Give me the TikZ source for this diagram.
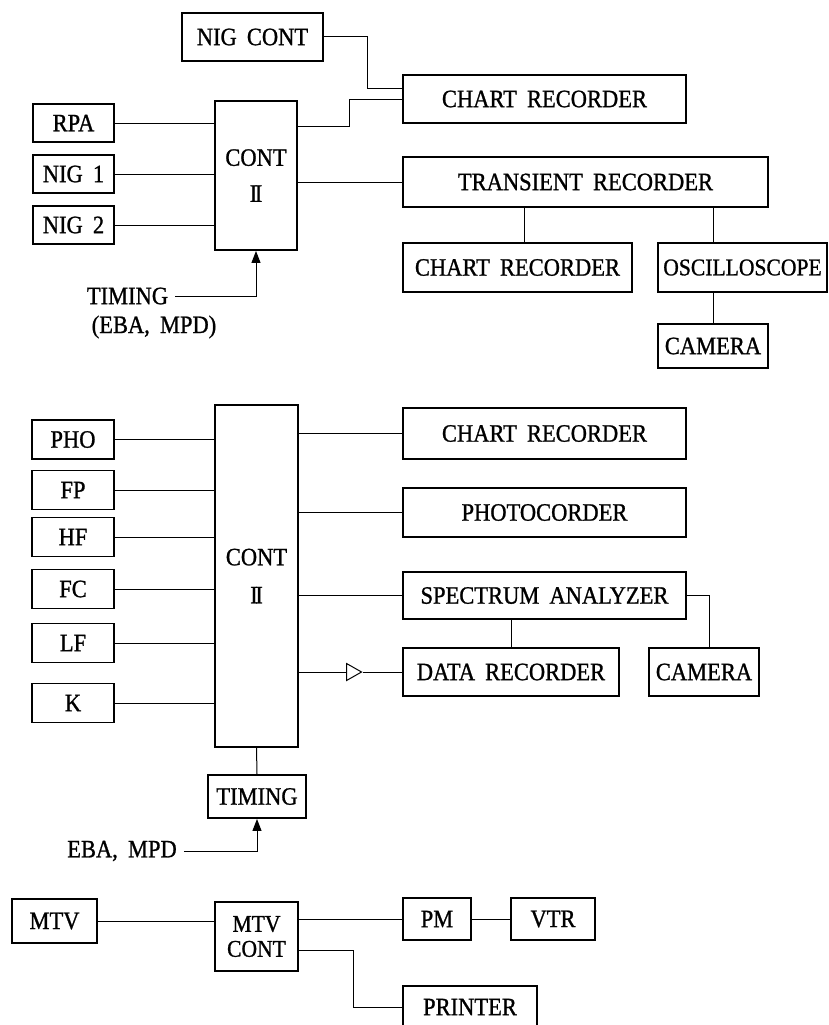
\documentclass[tikz,border=0pt]{standalone}
\usepackage{fontspec}
\setmainfont{Liberation Serif}[FakeStretch=0.9,WordSpace=1.8,FakeBold=1]
\usetikzlibrary{arrows.meta,shapes.geometric}
\tikzset{
  blk/.style={draw=black,line width=1.9pt,inner sep=2pt,align=center},
  wh/.style 2 args={minimum width=#1,minimum height=#2},
  wire/.style={draw=black,line width=1pt},
  sig/.style={wire,-{Triangle[length=12pt,width=9pt]}},
  amp/.style={draw=black,line width=1pt,isosceles triangle,
              isosceles triangle stretches,inner sep=0pt,wh={17}{15}},
  lbl/.style={inner sep=7pt},
}
\newcommand{\romtwo}{I\kern-2.4pt I}

\begin{document}
\begin{tikzpicture}[x=1pt,y=-1pt,font=\fontsize{25}{29}\selectfont]
  \useasboundingbox (0,0) rectangle (829,1025);

  % ===== upper group: CONT II, NIG inputs =====
  \node[blk,wh={141}{48}]  (nigc)   at (252.5,37)  {NIG CONT};
  \node[blk,wh={81}{38}]   (rpa)    at (73.5,123)  {RPA};
  \node[blk,wh={81}{38}]   (nig1)   at (73.5,174)  {NIG 1};
  \node[blk,wh={81}{38}]   (nig2)   at (73.5,225)  {NIG 2};
  \node[blk,wh={82}{149}]  (cont1)  at (256,175.5) {CONT\\[7pt]\romtwo};
  \node[blk,wh={283}{48}]  (chart1) at (544.5,99)  {CHART RECORDER};
  \node[blk,wh={365}{50}]  (trans)  at (585.5,182) {TRANSIENT RECORDER};
  \node[blk,wh={229}{49}]  (chart2) at (517.5,267.5) {CHART RECORDER};
  \node[blk,wh={169}{49},inner sep=0pt,font=\fontsize{24}{28}\selectfont]
                           (osc)    at (742.5,267.5) {OSCILLOSCOPE};
  \node[blk,wh={110}{44}]  (cam1)   at (713,346)   {CAMERA};
  \node[lbl] (tim1)  at (127.5,296) {TIMING};
  \node[lbl] (tim1b) at (154,327)   {(EBA, MPD)};

  \foreach \n in {rpa,nig1,nig2}
    \draw[wire] (\n.east) -- (\n.east -| cont1.west);
  \draw[wire] (nigc.east) -- ++(44,0) |- ([yshift=11pt]chart1.west);
  \draw[wire] ([yshift=-26pt]cont1.north east) -- ++(52,0) |- (chart1.west);
  \draw[wire] (trans.west -| cont1.east) -- (trans.west);
  \draw[wire] ([xshift=6.5pt]chart2.north) -- ([xshift=6.5pt]chart2.north |- trans.south);
  \draw[wire] (cam1 |- trans.south) -- (cam1 |- osc.north);
  \draw[wire] (cam1 |- osc.south) -- (cam1.north);
  \draw[sig] (tim1.east) -| (cont1.south);

  % ===== middle group: CONT II, sensors and recorders =====
  \node[blk,wh={83}{342}] (cont2) at (256.5,576) {CONT\\[9pt]\romtwo};
  \foreach \n/\lab/\y in {pho/PHO/439.5,fp/FP/490,hf/HF/537,fc/FC/589,lf/LF/643,k/K/703}{
    \node[blk,wh={82}{39}] (\n) at (73,\y) {\lab};
    \draw[wire] (\n.east) -- (\n.east -| cont2.west);
  }
  \node[blk,wh={283}{51}] (chart3) at (544.5,433.5) {CHART RECORDER};
  \node[blk,wh={283}{49}] (photo)  at (544.5,512.5) {PHOTOCORDER};
  \node[blk,wh={283}{47}] (spec)   at (544.5,595.5) {SPECTRUM ANALYZER};
  \node[blk,wh={216}{48}] (data)   at (511,672)     {DATA RECORDER};
  \node[blk,wh={110}{48}] (cam2)   at (704,672)     {CAMERA};
  \node[amp]              (amp)    at (351.5,672)   {};
  \foreach \n in {chart3,photo,spec}
    \draw[wire] (\n.west -| cont2.east) -- (\n.west);
  \draw[wire] (data.west -| cont2.east) -- (amp.west);
  \draw[wire] (amp.east) -- (data.west);
  \draw[wire] (data.north) -- (data.north |- spec.south);
  \draw[wire] (spec.east) -| ([xshift=5pt]cam2.north);

  \node[blk,wh={98}{43}] (tmg) at (257,796.5) {TIMING};
  \node[lbl]             (eba) at (122,851)   {EBA, MPD};
  \draw[wire] (cont2.south) -- (tmg.north);
  \draw[sig] (eba.east) -| (tmg.south);

  % ===== lower group: MTV =====
  \node[blk,wh={85}{44}] (mtv)  at (54.5,921)  {MTV};
  \node[blk,wh={83}{69},font=\fontsize{24}{25}\selectfont]
                         (mtvc) at (256.5,936.5) {MTV\\CONT};
  \node[blk,wh={68}{42}]  (pm)  at (437,919)  {PM};
  \node[blk,wh={84}{42}]  (vtr) at (553,919)  {VTR};
  \node[blk,wh={134}{42}] (prn) at (470,1007) {PRINTER};
  \draw[wire] (mtv.east) -- (mtv.east -| mtvc.west);
  \draw[wire] (pm.west -| mtvc.east) -- (pm.west);
  \draw[wire] (pm) -- (vtr);
  \draw[wire] ([yshift=-13.5pt]mtvc.east) -- ++(55,0) |- (prn.west);
\end{tikzpicture}
\end{document}
